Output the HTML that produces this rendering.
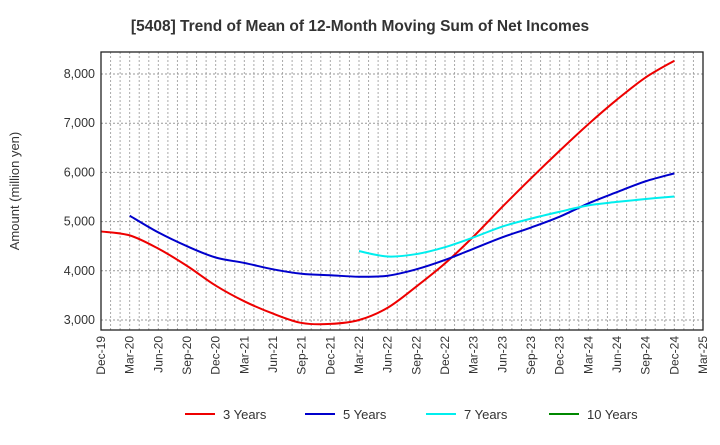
<!DOCTYPE html>
<html><head><meta charset="utf-8"><style>
body{margin:0;background:#fff;font-family:"Liberation Sans",sans-serif}
</style></head><body>
<svg id="c" width="720" height="440" xmlns="http://www.w3.org/2000/svg" font-family="Liberation Sans, sans-serif">
<text x="360" y="31" text-anchor="middle" font-size="15.5" font-weight="bold" fill="#333">[5408]  Trend of Mean of 12-Month Moving Sum of Net Incomes</text>
<text transform="translate(19,191) rotate(-90)" text-anchor="middle" font-size="13" fill="#333">Amount (million yen)</text>
<g id="grid"></g><g id="series"></g><g id="axes"></g><g id="legend"></g>
</svg>
<script>
const categories=["Dec-19","Mar-20","Jun-20","Sep-20","Dec-20","Mar-21","Jun-21","Sep-21","Dec-21","Mar-22","Jun-22","Sep-22","Dec-22","Mar-23","Jun-23","Sep-23","Dec-23","Mar-24","Jun-24","Sep-24","Dec-24","Mar-25"];
const yTicks=[3000,4000,5000,6000,7000,8000];
const s3=[4800,4720,4450,4100,3700,3380,3130,2940,2920,3000,3250,3680,4150,4700,5300,5880,6440,6980,7480,7930,8270];
const s5=[null,5120,4780,4500,4270,4160,4030,3940,3910,3880,3900,4030,4220,4450,4680,4880,5100,5370,5600,5820,5980];
const s7=[null,null,null,null,null,null,null,null,null,4400,4290,4340,4480,4680,4900,5060,5200,5330,5400,5460,5510];
const s10=[];
const names=["3 Years","5 Years","7 Years","10 Years"];
const colors=["#e00","#00c","#0ee","#080"];
const L=101,R=703,T=52,B=330;
const x=i=>L+i*(R-L)/(categories.length-1);
const y=v=>320-(v-3000)*(320-74)/5000;
const NS="http://www.w3.org/2000/svg";
function mk(t,a,p){const e=document.createElementNS(NS,t);for(const k in a)e.setAttribute(k,a[k]);p.appendChild(e);return e;}
const g=document.getElementById('grid'),ax=document.getElementById('axes'),se=document.getElementById('series'),lg=document.getElementById('legend');
const bg=mk('rect',{x:L,y:T,width:R-L,height:B-T,fill:'#fff',stroke:'none'},g);

const months=(categories.length-1)*3;
for(let m=1;m<months;m++){const xx=L+m*(R-L)/months;
const l=mk('line',{x1:xx,x2:xx,y1:T,y2:B,stroke:'#aaa','stroke-dasharray':'2,2','stroke-width':1},g);
}
categories.forEach((c,i)=>{
const t=mk('text',{transform:`translate(${x(i)+4},${B+6}) rotate(-90)`,'text-anchor':'end','font-size':12,fill:'#333'},ax);t.textContent=c;
});
yTicks.forEach(v=>{const l=mk('line',{x1:L,x2:R,y1:y(v),y2:y(v),stroke:'#999','stroke-dasharray':'2,2','stroke-width':1},g);

const t=mk('text',{x:L-6,y:y(v)+4,'text-anchor':'end','font-size':12.5,fill:'#333'},ax);t.textContent=v.toLocaleString('en-US');
});
const fr=mk('rect',{x:L,y:T,width:R-L,height:B-T,fill:'none',stroke:'#222','stroke-width':1.3},ax);

function path(arr){const p=[];arr.forEach((v,i)=>{if(v!=null)p.push([x(i),y(v)]);});if(p.length<2)return '';
let d=`M${p[0][0]},${p[0][1]}`;for(let i=0;i<p.length-1;i++){const p0=p[i-1]||p[i],p1=p[i],p2=p[i+1],p3=p[i+2]||p2;
d+=` C${p1[0]+(p2[0]-p0[0])/6},${p1[1]+(p2[1]-p0[1])/6} ${p2[0]-(p3[0]-p1[0])/6},${p2[1]-(p3[1]-p1[1])/6} ${p2[0]},${p2[1]}`;}return d;}
[s3,s5,s7,s10].forEach((s,k)=>{const d=path(s);if(!d)return;const e=mk('path',{d,fill:'none',stroke:colors[k],'stroke-width':2},se);
});
const lx=[185,305,426,549];
names.forEach((n,k)=>{const gg=mk('g',{},lg);
mk('line',{x1:lx[k],x2:lx[k]+30,y1:414,y2:414,stroke:colors[k],'stroke-width':2},gg);
const t=mk('text',{x:lx[k]+38,y:419,'font-size':13,fill:'#333'},gg);t.textContent=n;});
</script>
</body></html>
